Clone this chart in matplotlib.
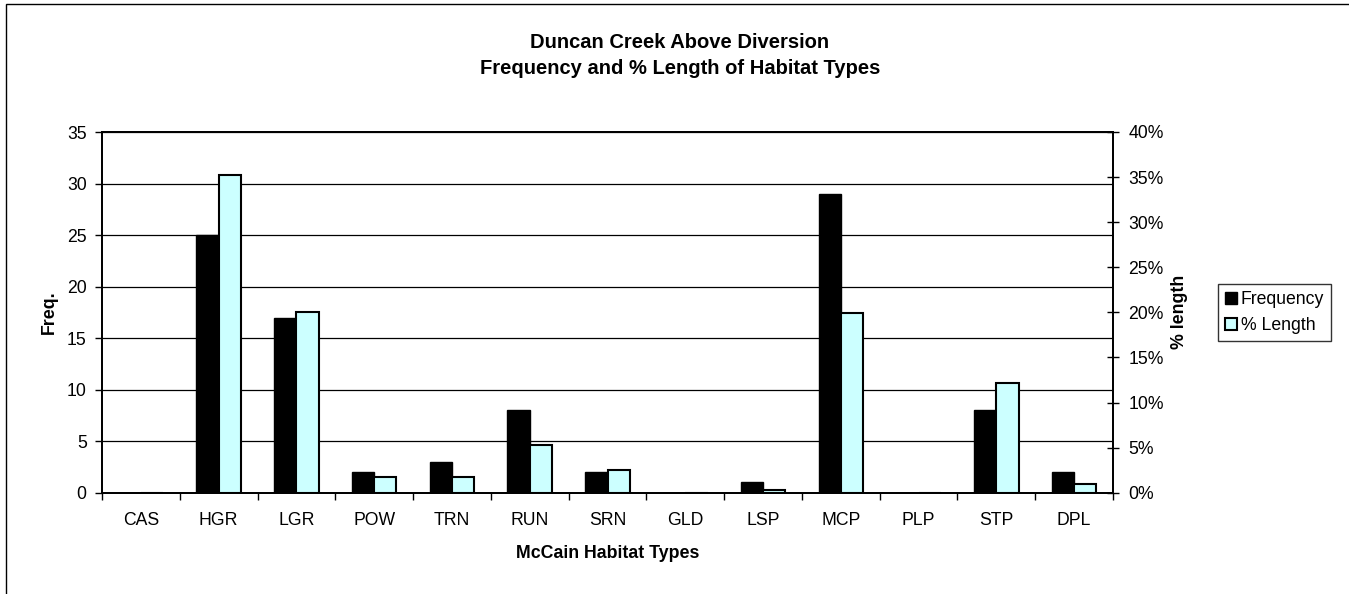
import numpy as np
import matplotlib
matplotlib.use("Agg")
import matplotlib.pyplot as plt
from matplotlib.patches import Rectangle
from matplotlib.ticker import PercentFormatter, FixedLocator

# data
habitat = ["CAS", "HGR", "LGR", "POW", "TRN", "RUN", "SRN",
           "GLD", "LSP", "MCP", "PLP", "STP", "DPL"]
frequency = [0, 25, 17, 2, 3, 8, 2, 0, 1, 29, 0, 8, 2]
pct_length = [0.0, 0.352, 0.200, 0.017, 0.017, 0.053, 0.025,
              0.0, 0.0033, 0.199, 0.0, 0.122, 0.0096]

plt.rcParams["font.family"] = ["Liberation Sans", "DejaVu Sans"]

W, H = 1349, 594
fig = plt.figure(figsize=(W / 100, H / 100), dpi=100)
ax = fig.add_axes([102 / W, 1 - 492.7 / H, (1113 - 102) / W, (492.7 - 132) / H])
ax2 = ax.twinx()

x = np.arange(len(habitat))
w = 0.286
b1 = ax.bar(x - w / 2, frequency, w, color="black", edgecolor="black",
            linewidth=1.0, label="Frequency", zorder=3)
b2 = ax2.bar(x + w / 2, pct_length, w, color="#ccffff", edgecolor="black",
             linewidth=1.5, label="% Length", zorder=3)

ax.set_xlim(-0.5, len(habitat) - 0.5)
ax.set_ylim(0, 35)
ax.set_yticks(np.arange(0, 36, 5))
ax2.set_ylim(0, 0.40)
ax2.set_yticks(np.arange(0, 0.41, 0.05))
ax2.yaxis.set_major_formatter(PercentFormatter(1.0, decimals=0))

ax.set_xticks(x)
ax.set_xticklabels(habitat)
ax.xaxis.set_minor_locator(FixedLocator(np.arange(-0.5, len(habitat), 1.0)))
ax.tick_params(axis="x", which="major", length=0, pad=14, labelsize=12.7)
ax.tick_params(axis="x", which="minor", length=5, width=1, direction="out")
ax.tick_params(axis="y", length=5, width=1, direction="out", pad=6, labelsize=12.7)
ax2.tick_params(axis="y", length=8, width=1, direction="inout", pad=7, labelsize=12.7)

ax.yaxis.grid(True, color="black", linewidth=0.9, zorder=0)
ax.set_axisbelow(True)
for a in (ax, ax2):
    for s in a.spines.values():
        s.set_color("black")
        s.set_linewidth(1.3)

fig.text(680 / W, 1 - 43 / H, "Duncan Creek Above Diversion",
         ha="center", va="center", fontsize=14.5, fontweight="bold")
fig.text(680 / W, 1 - 69 / H, "Frequency and % Length of Habitat Types",
         ha="center", va="center", fontsize=14.5, fontweight="bold")
fig.text(607.5 / W, 1 - 553 / H, "McCain Habitat Types",
         ha="center", va="center", fontsize=12.8, fontweight="bold")
fig.text(49 / W, 1 - 312 / H, "Freq.", rotation=90,
         ha="center", va="center", fontsize=12.8, fontweight="bold")
fig.text(1180 / W, 1 - 312 / H, "% length", rotation=90,
         ha="center", va="center", fontsize=12.8, fontweight="bold")

leg = fig.legend([b1, b2], ["Frequency", "% Length"], loc="center",
                 bbox_to_anchor=(1274.5 / W, 1 - 312.5 / H), fontsize=12.7,
                 frameon=True, fancybox=False, edgecolor="black",
                 handlelength=0.7, handleheight=0.7, handletextpad=0.2,
                 borderpad=0.4, labelspacing=0.5, borderaxespad=0)
leg.get_frame().set_linewidth(1.0)

fig.patches.append(Rectangle((6 / W, -0.05), 1.1, (1 - 4 / H) + 0.05,
                             transform=fig.transFigure, fill=False,
                             edgecolor="black", linewidth=1.0))

fig.savefig("out.png", dpi=100)
